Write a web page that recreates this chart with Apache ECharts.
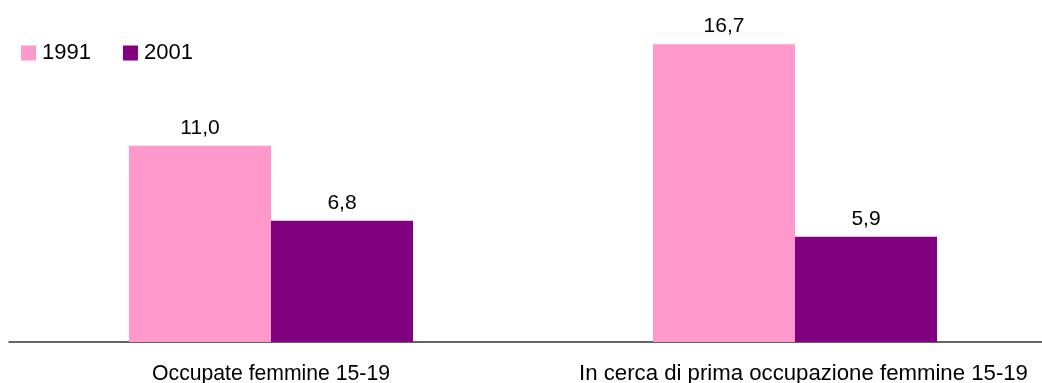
<!DOCTYPE html>
<html>
<head>
<meta charset="utf-8">
<script src="https://cdn.jsdelivr.net/npm/echarts@6/dist/echarts.min.js"></script>
<style>
  html, body { margin: 0; padding: 0; background: #ffffff; }
  #chart { width: 1042px; height: 383px; }
</style>
</head>
<body>
<div id="chart"></div>
<script>
// Categories and series values
const categories = ['Occupate femmine 15-19', 'In cerca di prima occupazione femmine 15-19'];
const seriesNames = ['1991', '2001'];
const values1991 = [11.0, 16.7];
const values2001 = [6.8, 5.9];

const FONT = '"Liberation Sans", Arial, sans-serif';
const fmt = v => v.toFixed(1).replace('.', ',');

const chart = echarts.init(document.getElementById('chart'), null, { renderer: 'canvas' });

const barLabel = {
  show: true,
  position: 'top',
  distance: 7,
  color: '#000000',
  fontFamily: FONT,
  fontSize: 21,
  formatter: p => fmt(p.value)
};

chart.setOption({
  animation: false,
  backgroundColor: '#ffffff',
  legend: {
    left: 16,
    top: 37,
    itemWidth: 15,
    itemHeight: 15,
    itemGap: 32,
    icon: 'rect',
    textStyle: { fontFamily: FONT, fontSize: 22, color: '#000000', padding: [0, 0, 0, 1] },
    data: seriesNames
  },
  grid: {
    left: 9, top: 21, width: 1048, bottom: 41,
    containLabel: false,
    outerBoundsMode: 'none'
  },
  xAxis: {
    type: 'category',
    data: [
      { value: categories[0], textStyle: { fontSize: 21.2 } },
      { value: categories[1], textStyle: { fontSize: 22.2, padding: [0, 0, 0, 17] } }
    ],
    axisLine: { show: true, lineStyle: { color: '#333333', width: 1.5 } },
    axisTick: { show: false },
    axisLabel: {
      margin: 21, fontFamily: FONT, fontSize: 21, color: '#000000',
      interval: 0, hideOverlap: false, verticalAlign: 'top', lineHeight: 22
    }
  },
  yAxis: {
    type: 'value',
    min: 0,
    max: 18,
    show: false,
    splitLine: { show: false }
  },
  series: [
    {
      name: seriesNames[0],
      type: 'bar',
      data: values1991,
      barGap: '0%',
      barCategoryGap: '45.8%',
      itemStyle: { color: '#FF99CC' },
      label: barLabel
    },
    {
      name: seriesNames[1],
      type: 'bar',
      data: values2001,
      barGap: '0%',
      barCategoryGap: '45.8%',
      itemStyle: { color: '#800080' },
      label: barLabel
    }
  ]
});
</script>
</body>
</html>
